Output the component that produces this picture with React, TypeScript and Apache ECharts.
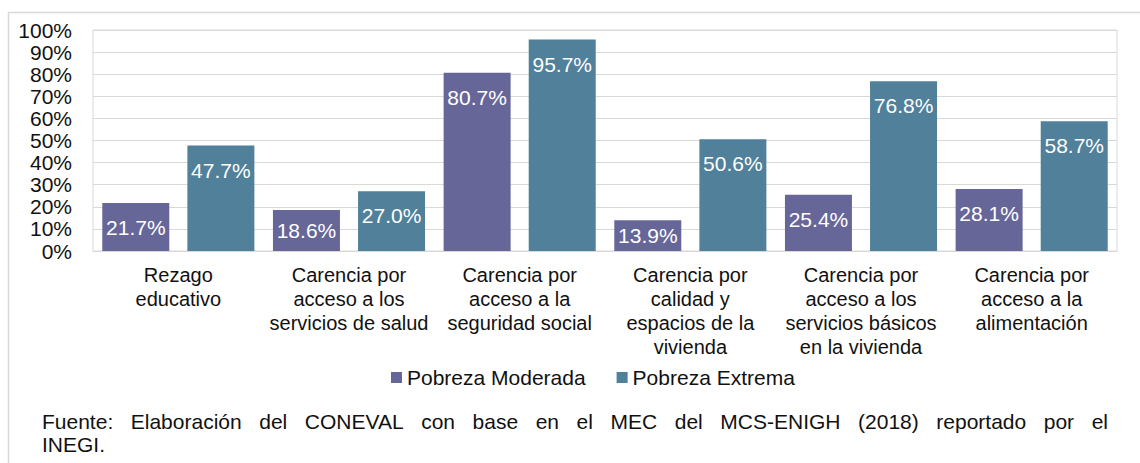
import React, { useEffect, useRef } from "react";
import * as echarts from "echarts";

const categories = [
  "Rezago\neducativo",
  "Carencia por\nacceso a los\nservicios de salud",
  "Carencia por\nacceso a la\nseguridad social",
  "Carencia por\ncalidad y\nespacios de la\nvivienda",
  "Carencia por\nacceso a los\nservicios básicos\nen la vivienda",
  "Carencia por\nacceso a la\nalimentación",
];
const seriesNames = ["Pobreza Moderada", "Pobreza Extrema"];
const moderada = [21.7, 18.6, 80.7, 13.9, 25.4, 28.1];
const extrema = [47.7, 27.0, 95.7, 50.6, 76.8, 58.7];
const yMin = 0;
const yMax = 100;
const yInterval = 10;
const footerLine1 =
  "Fuente: Elaboración del CONEVAL con base en el MEC del MCS-ENIGH (2018) reportado por el";
const footerLine2 = "INEGI.";

const FONT = '"Liberation Sans", Arial, sans-serif';
const COLORS = ["#676699", "#50809a"];

function buildFooter() {
  const fs = 21;
  const left = 42;
  const right = 1108;
  const canvas = document.createElement("canvas");
  const ctx = canvas.getContext("2d") as CanvasRenderingContext2D;
  ctx.font = `${fs}px "Liberation Sans"`;
  const words = footerLine1.split(" ");
  const widths = words.map((w) => ctx.measureText(w).width);
  const total = widths.reduce((a, b) => a + b, 0);
  const gap = (right - left - total) / (words.length - 1);
  let x = left;
  const els: any[] = [];
  words.forEach((w, i) => {
    els.push({
      type: "text",
      x,
      y: 421,
      style: {
        text: w,
        fontSize: fs,
        fontFamily: FONT,
        fill: "#111",
        verticalAlign: "middle",
        align: "left",
      },
    });
    x += widths[i] + gap;
  });
  els.push({
    type: "text",
    x: left,
    y: 444,
    style: {
      text: footerLine2,
      fontSize: fs,
      fontFamily: FONT,
      fill: "#111",
      verticalAlign: "middle",
      align: "left",
    },
  });
  return els;
}

export default function App() {
  const ref = useRef<HTMLDivElement>(null);
  useEffect(() => {
    if (!ref.current) return;
    const chart = echarts.init(ref.current, null, { renderer: "svg" });
    const mkData = (arr: number[]) =>
      arr.map((v) => (v < 20 ? { value: v, label: { position: "inside" } } : { value: v }));
    const labelCfg = {
      show: true,
      position: "insideTop",
      distance: 14,
      color: "#fff",
      fontSize: 21,
      fontFamily: FONT,
      formatter: (p: any) => Number(p.value).toFixed(1) + "%",
    };
    chart.setOption({
      animation: false,
      textStyle: { fontFamily: FONT },
      color: COLORS,
      grid: {
        left: 93,
        right: 23,
        top: 30,
        bottom: 212,
        show: true,
        borderColor: "#d9d9d9",
        borderWidth: 1,
        containLabel: false,
      },
      legend: {
        data: seriesNames,
        left: 386,
        top: 362,
        itemWidth: 11,
        itemHeight: 11,
        itemGap: 31,
        icon: "rect",
        textStyle: { fontSize: 21, color: "#111", fontFamily: FONT },
      },
      xAxis: {
        type: "category",
        data: categories,
        axisTick: { show: false },
        axisLine: { lineStyle: { color: "#d9d9d9", width: 1 } },
        axisLabel: {
          color: "#111",
          fontSize: 20,
          lineHeight: 24,
          margin: 12,
          fontFamily: FONT,
          interval: 0,
          align: "center",
        },
      },
      yAxis: {
        type: "value",
        min: yMin,
        max: yMax,
        interval: yInterval,
        axisLine: { show: false },
        axisTick: { show: false },
        axisLabel: {
          formatter: "{value}%",
          color: "#111",
          fontSize: 21,
          margin: 21,
          fontFamily: FONT,
        },
        splitLine: { lineStyle: { color: "#d9d9d9", width: 1 } },
      },
      series: [
        {
          name: seriesNames[0],
          type: "bar",
          data: mkData(moderada),
          barWidth: 67,
          barGap: "27%",
          label: labelCfg,
          itemStyle: { color: COLORS[0] },
        },
        {
          name: seriesNames[1],
          type: "bar",
          data: mkData(extrema),
          barWidth: 67,
          barGap: "27%",
          label: labelCfg,
          itemStyle: { color: COLORS[1] },
        },
      ],
      graphic: [
        {
          type: "rect",
          z: -10,
          shape: { x: 8.5, y: 12.5, width: 1140, height: 460 },
          style: { fill: "none", stroke: "#d9d9d9", lineWidth: 1.5 },
        },
        ...buildFooter(),
      ],
    });
    return () => chart.dispose();
  }, []);
  return (
    <div
      ref={ref}
      style={{ position: "fixed", left: 0, top: 0, width: 1140, height: 463, background: "#fff" }}
    />
  );
}
